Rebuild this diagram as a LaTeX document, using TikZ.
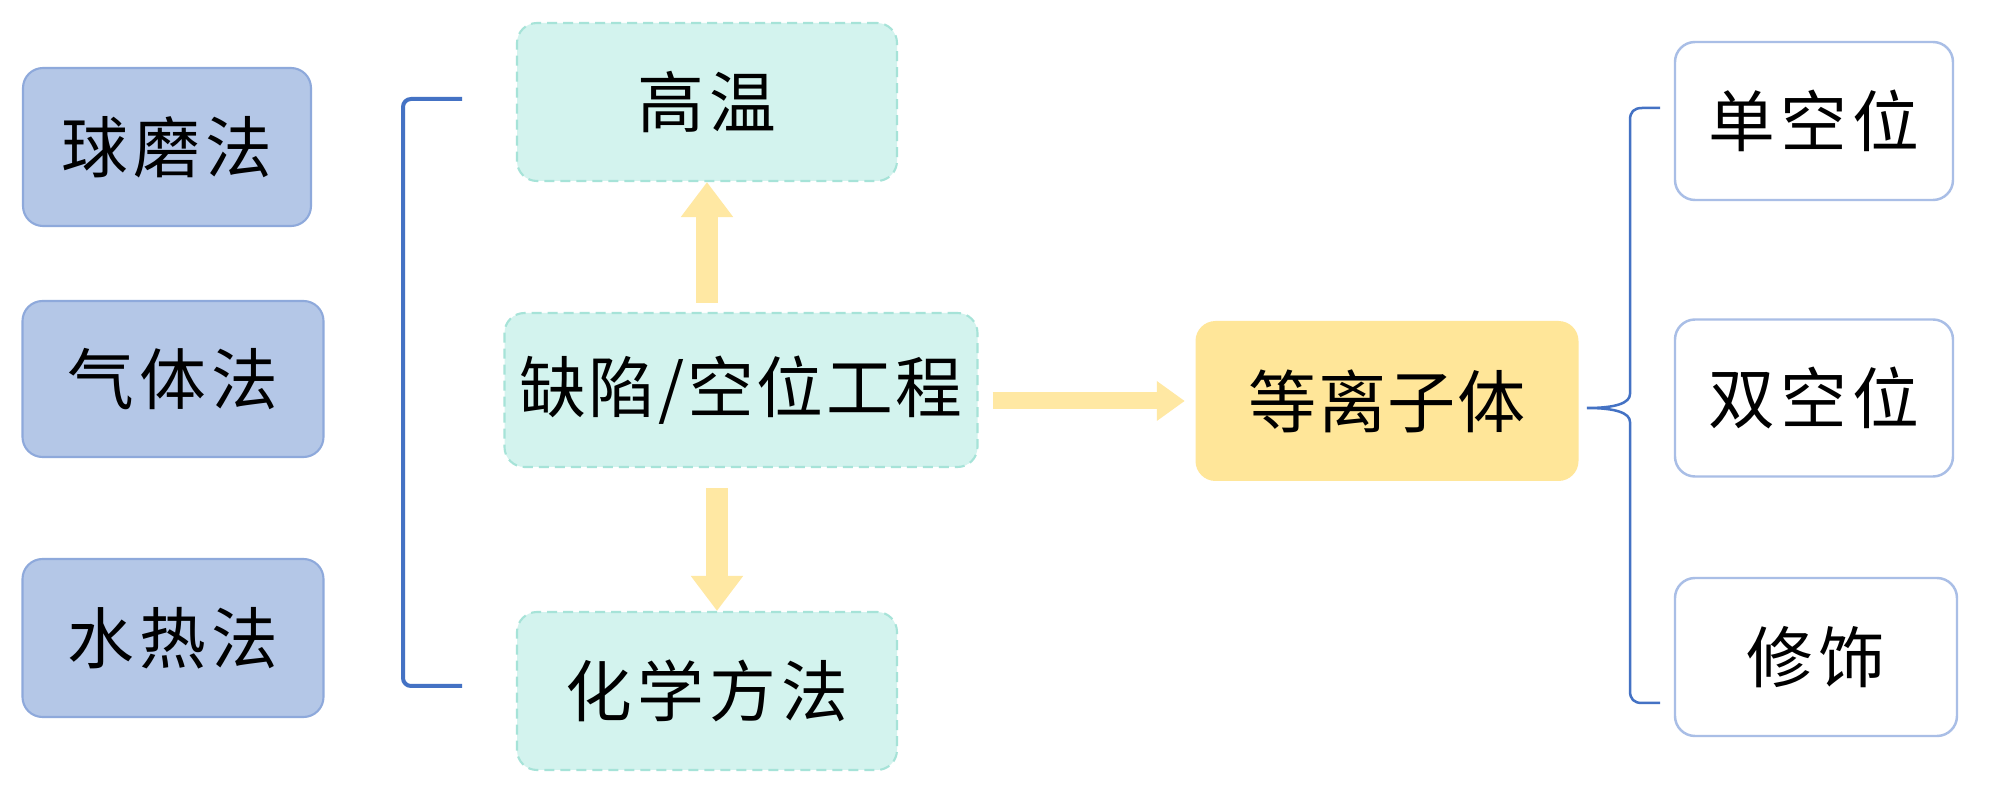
\documentclass[tikz,border=0pt]{standalone}
\usepackage{fontspec}
\newfontfamily\cjkwide[LetterSpace=8]{Noto Sans CJK SC}
\newfontfamily\cjkmid[LetterSpace=4]{Noto Sans CJK SC}
\newfontfamily\cjknarrow[LetterSpace=2]{Noto Sans CJK SC}
\usetikzlibrary{arrows.meta}
\definecolor{lbfill}{HTML}{B4C7E7}
\definecolor{lbdraw}{HTML}{8EA9DB}
\definecolor{tlfill}{HTML}{D3F3EE}
\definecolor{tldraw}{HTML}{A6E3D8}
\definecolor{ylw}{HTML}{FFE699}
\definecolor{ylwarrow}{HTML}{FFE8A3}
\definecolor{rbdraw}{HTML}{A9BEE6}
\definecolor{brk}{HTML}{4472C4}
\tikzset{
  basebox/.style={rounded corners=2mm, inner sep=0pt, text=black},
  leftbox/.style={basebox, fill=lbfill, draw=lbdraw, line width=0.6pt,
    font=\cjkwide\fontsize{19pt}{22pt}\selectfont},
  tealbox/.style={basebox, fill=tlfill, draw=tldraw, line width=0.6pt,
    dash pattern=on 1mm off 0.6mm, font=\cjkwide\fontsize{19pt}{22pt}\selectfont},
  plasmabox/.style={basebox, fill=ylw, draw=none,
    font=\cjknarrow\fontsize{19.4pt}{23pt}\selectfont},
  rightbox/.style={basebox, fill=white, draw=rbdraw, line width=0.7pt,
    font=\cjkwide\fontsize{19pt}{22pt}\selectfont},
  vbigarrow/.style={draw=ylwarrow, line width=2.2mm, -{Triangle[width=5mm,length=3.5mm]}},
  hbigarrow/.style={draw=ylwarrow, line width=1.7mm, -{Triangle[width=3.8mm,length=2.8mm]}},
  bracketline/.style={draw=brk, line width=0.4mm, rounded corners=0.8mm},
  braceline/.style={draw=brk, line width=0.25mm},
}
\begin{document}
\begin{tikzpicture}[x=0.1mm,y=-0.1mm]
\path[use as bounding box, fill=white] (0,0) rectangle (2000,799);

% left boxes
\node[leftbox, minimum width=28.8mm, minimum height=15.8mm] (b1) at (167,147) {球磨法};
\node[leftbox, minimum width=30.1mm, minimum height=15.6mm] (b2) at (173,379) {气体法};
\node[leftbox, minimum width=30.1mm, minimum height=15.8mm] (b3) at (173,638) {水热法};

% left bracket
\coordinate (lbt) at (462,99);
\coordinate (lbb) at (462,686);
\draw[bracketline] (lbt) -- (403,99) -- (403,686) -- (lbb);

% teal boxes
\node[tealbox, minimum width=38mm, minimum height=15.8mm] (high) at (707,102) {高温};
\node[tealbox, minimum width=47.3mm, minimum height=15.4mm, font=\cjkmid\fontsize{19pt}{22pt}\selectfont] (defect) at (741,390) {缺陷/空位工程};
\node[tealbox, minimum width=38mm, minimum height=15.8mm] (chem) at (707,691) {化学方法};

% plasma
\node[plasmabox, minimum width=38.3mm, minimum height=16mm] (plasma) at (1387,401) {等离子体};

% right boxes
\node[rightbox, minimum width=27.8mm, minimum height=15.8mm] (s1) at (1814,121) {单空位};
\node[rightbox, minimum width=27.8mm, minimum height=15.7mm] (s2) at (1814,398) {双空位};
\node[rightbox, minimum width=28.2mm, minimum height=15.8mm] (s3) at (1816,657) {修饰};

% arrows
\draw[vbigarrow, shorten <=0.9mm] (defect.north -| high.south) -- (high.south);
\draw[vbigarrow, shorten <=2mm] ([xshift=1mm]defect.south -| chem.north) -- ([xshift=1mm]chem.north);
\draw[hbigarrow, shorten <=1.4mm, shorten >=1mm] (defect.east |- plasma.west) -- (plasma.west);

% right brace
\coordinate (rbt) at (1660,108);
\coordinate (rbb) at (1660,703);
\coordinate (rtip) at (1587,408);
\draw[braceline] (rbt) -- (1642,108) .. controls (1634,108) and (1630,112) .. (1630,120)
  -- (1630,394) .. controls (1630,403) and (1616,408) .. (rtip)
  .. controls (1616,408) and (1630,413) .. (1630,422)
  -- (1630,691) .. controls (1630,699) and (1634,703) .. (1642,703) -- (rbb);
\end{tikzpicture}
\end{document}
